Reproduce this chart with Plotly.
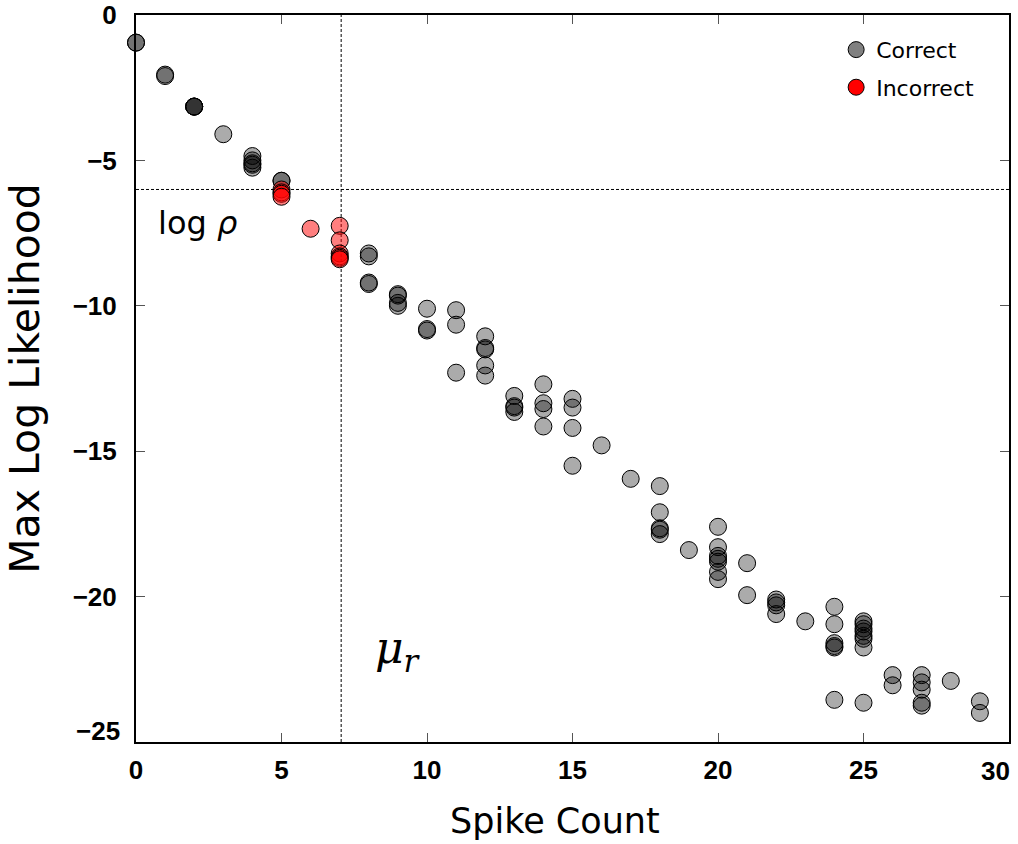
import plotly.graph_objects as go

# ---- data ----
correct_x = [0, 0, 1, 1, 2, 2, 2, 2, 3, 4, 4, 4, 4, 4, 5, 5,
             8, 8, 8, 8, 9, 9, 9, 9, 10, 10, 10, 11, 11, 11,
             12, 12, 12, 12, 12, 13, 13, 13, 13, 14, 14, 14, 14,
             15, 15, 15, 15, 16, 17, 18, 18, 18, 18, 18, 19,
             20, 20, 20, 20, 20, 20, 20, 21, 21, 22, 22, 22, 22, 23,
             24, 24, 24, 24, 24, 24, 25, 25, 25, 25, 25, 25, 25, 25,
             26, 26, 27, 27, 27, 27, 27, 28, 29, 29]
correct_y = [-0.95, -0.95, -2.05, -2.1, -3.15, -3.15, -3.15, -3.15, -4.1,
             -4.85, -5.0, -5.1, -5.15, -5.25, -5.7, -5.7,
             -8.2, -8.3, -9.2, -9.25, -9.6, -9.65, -9.9, -10.0,
             -10.1, -10.8, -10.85, -10.15, -10.65, -12.3,
             -11.05, -11.45, -11.5, -12.05, -12.4,
             -13.1, -13.45, -13.5, -13.65,
             -12.7, -13.35, -13.55, -14.15,
             -13.2, -13.5, -14.2, -15.5,
             -14.8, -15.95,
             -16.2, -17.1, -17.65, -17.7, -17.85, -18.4,
             -17.6, -18.3, -18.6, -18.7, -18.8, -19.15, -19.4,
             -18.85, -19.95,
             -20.1, -20.2, -20.3, -20.6, -20.85,
             -20.35, -20.95, -21.6, -21.7, -21.75, -23.55,
             -20.85, -20.95, -21.1, -21.2, -21.35, -21.45, -21.75, -23.65,
             -22.7, -23.05,
             -22.7, -22.95, -23.2, -23.65, -23.75,
             -22.9, -23.6, -24.0]
incorrect_x = [5, 5, 5, 5, 6, 7, 7, 7, 7, 7, 7]
incorrect_y = [-6.0, -6.1, -6.15, -6.25, -7.35, -7.25, -7.75, -8.2, -8.3, -8.35, -8.4]

x_ticks = [0, 5, 10, 15, 20, 25, 30]
x_ticktext = ["0", "5", "10", "15", "20", "25", "30"]
y_ticks = [0, -5, -10, -15, -20, -25]
y_ticktext = ["0", "\u22125", "\u221210", "\u221215", "\u221220", "\u221225"]
x_title = "Spike Count"
y_title = "Max Log Likelihood"
log_rho = -6.0
mu_r = 7.05

TICKFONT = dict(family="Liberation Sans, Arial", size=26, color="black", weight="bold")
TXT = "DejaVu Sans, Verdana"

fig = go.Figure()
fig.add_trace(go.Scatter(
    x=correct_x, y=correct_y, mode="markers", showlegend=False, cliponaxis=False,
    marker=dict(size=17, color="rgba(0,0,0,0.33)", line=dict(color="black", width=1)),
    hoverinfo="x+y"))
fig.add_trace(go.Scatter(
    x=incorrect_x, y=incorrect_y, mode="markers", showlegend=False, cliponaxis=False,
    marker=dict(size=17, color="rgba(255,0,0,0.5)", line=dict(color="black", width=1)),
    hoverinfo="x+y"))
# legend entries
fig.add_trace(go.Scatter(x=[None], y=[None], mode="markers", name="Correct", legendgroup="a",
                         marker=dict(size=22, color="#808080", line=dict(color="black", width=1))))
fig.add_trace(go.Scatter(x=[None], y=[None], mode="markers", name="Incorrect", legendgroup="b",
                         marker=dict(size=22, color="#ff0000", line=dict(color="black", width=1))))

fig.add_shape(type="line", xref="paper", yref="y", x0=0, x1=1, y0=log_rho, y1=log_rho,
              line=dict(color="black", width=1, dash="3px,2px"), layer="below")
fig.add_shape(type="line", xref="x", yref="paper", x0=mu_r, x1=mu_r, y0=0, y1=1,
              line=dict(color="black", width=1, dash="3px,2px"), layer="below")

fig.add_annotation(x=0.68, y=-7.15, xref="x", yref="y", text="log <i>\u03c1</i>", showarrow=False,
                   xanchor="left", yanchor="middle",
                   font=dict(family=TXT, size=32, color="black"))
fig.add_annotation(x=8.15, y=-21.85, xref="x", yref="y", text="<i>\u03bc<sub>r</sub></i>", showarrow=False,
                   xanchor="left", yanchor="middle",
                   font=dict(family="DejaVu Serif", size=44, color="black"))
# edge tick labels (shifted inward like the reference)
fig.add_annotation(x=30, y=0, xref="x", yref="paper", text=x_ticktext[-1], showarrow=False,
                   xanchor="right", yanchor="top", xshift=3, yshift=-12, font=TICKFONT)
fig.add_annotation(x=0, y=-25, xref="paper", yref="y", text=y_ticktext[-1], showarrow=False,
                   xanchor="right", yanchor="middle", xshift=-14, yshift=11, font=TICKFONT)
# x axis title (placed slightly left of centre, as in the reference)
fig.add_annotation(x=0.48, y=0, xref="paper", yref="paper", text=x_title, showarrow=False,
                   xanchor="center", yanchor="middle", yshift=-79,
                   font=dict(family=TXT, size=35, color="black"))

fig.update_layout(
    width=1018, height=844,
    margin=dict(l=136, r=9, t=15, b=102),
    plot_bgcolor="white", paper_bgcolor="white",
    showlegend=True,
    legend=dict(x=0.802, y=0.981, xanchor="left", yanchor="top",
                font=dict(family=TXT, size=22, color="black"),
                bgcolor="rgba(0,0,0,0)", tracegroupgap=6, itemsizing="trace"),
    xaxis=dict(range=[0, 30], tickvals=x_ticks[:-1], ticktext=x_ticktext[:-1], ticks="inside", ticklen=9,
               tickcolor="#555", showgrid=False, zeroline=False, showline=True, linecolor="black",
               linewidth=2, mirror="ticks", tickfont=TICKFONT, ticklabelstandoff=4, automargin=False),
    yaxis=dict(range=[-25, 0], tickvals=y_ticks[:-1], ticktext=y_ticktext[:-1], ticks="inside", ticklen=9,
               tickcolor="#555", showgrid=False, zeroline=False, showline=True, linecolor="black",
               linewidth=2, mirror="ticks", tickfont=TICKFONT, ticklabelstandoff=12, automargin=False,
               title=dict(text=y_title, font=dict(family=TXT, size=41, color="black"), standoff=20)),
)

fig.write_html("out.html", config={"displayModeBar": False},
               post_script="document.body.style.margin='0';document.body.style.overflow='hidden';")
